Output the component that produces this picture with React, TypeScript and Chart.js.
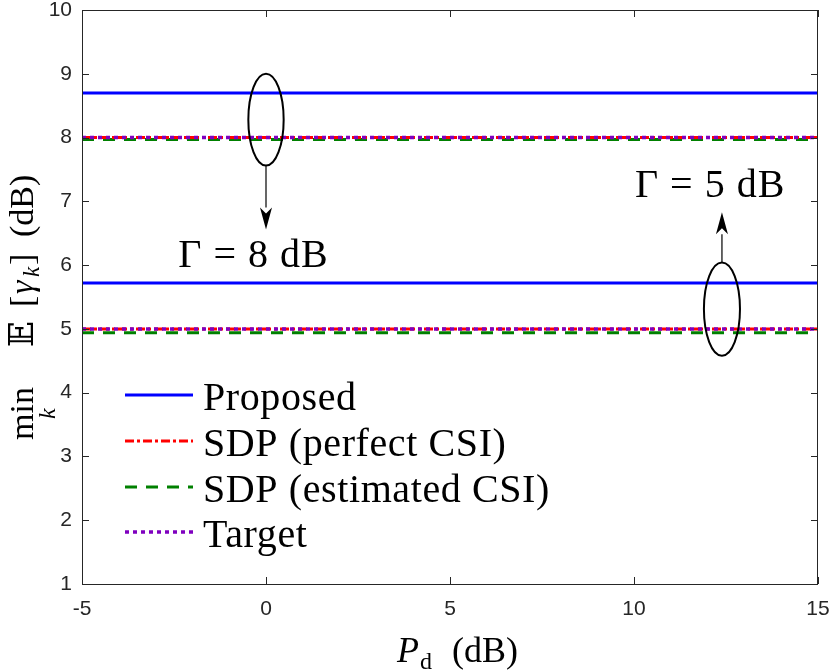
import { useEffect, useRef } from "react"
import { Chart, registerables } from "chart.js"

Chart.register(...registerables)

// sweep of the data power P_d (dB)
const powerDb = [-5, 0, 5, 10, 15]

// Γ = 8 dB group
const proposedHigh = [8.7, 8.7, 8.7, 8.7, 8.7]
const sdpPerfectHigh = [8.0, 8.0, 8.0, 8.0, 8.0]
const sdpEstimatedHigh = [7.97, 7.97, 7.97, 7.97, 7.97]
const targetHigh = [8.0, 8.0, 8.0, 8.0, 8.0]

// Γ = 5 dB group
const proposedLow = [5.72, 5.72, 5.72, 5.72, 5.72]
const sdpPerfectLow = [5.0, 5.0, 5.0, 5.0, 5.0]
const sdpEstimatedLow = [4.94, 4.94, 4.94, 4.94, 4.94]
const targetLow = [5.0, 5.0, 5.0, 5.0, 5.0]

const xTicks = [-5, 0, 5, 10, 15]
const yTicks = [1, 2, 3, 4, 5, 6, 7, 8, 9, 10]

const legendLabels = ["Proposed", "SDP (perfect CSI)", "SDP (estimated CSI)", "Target"]

// annotation ellipses / arrows / labels (data units)
const gammaLabels = ["Γ = 8 dB", "Γ = 5 dB"]
const ellipseX = [0, 12.39]
const ellipseY = [8.28, 5.31]
const ellipseRx = [0.48, 0.49]
const ellipseRy = [0.72, 0.73]
const arrowFrom = [7.56, 6.04]
const arrowTo = [6.56, 6.83]
const labelX = [-0.34, 12.07]
const labelY = [5.97, 7.07]

const SERIF = '"Liberation Serif", "Times New Roman", serif'
const SANS = '"Liberation Sans", Arial, Helvetica, sans-serif'
const AXIS_COLOR = "#262626"

const BLUE = "#0000ff"
const RED = "#ff0000"
const GREEN = "#008000"
const PURPLE = "#7f00bf"

const styles = [
  { color: BLUE, width: 3, dash: [] as number[] },
  { color: RED, width: 3, dash: [9, 3, 3, 3] },
  { color: GREEN, width: 3, dash: [12, 9] },
  { color: PURPLE, width: 3.5, dash: [4, 4] },
]

const toPoints = (ys: number[]) => powerDb.map((x, i) => ({ x, y: ys[i] }))

const overlayPlugin = {
  id: "overlay",
  afterDraw(chart: any) {
    const ctx = chart.ctx as CanvasRenderingContext2D
    const { left, right, top, bottom } = chart.chartArea
    const xs = chart.scales.x
    const ys = chart.scales.y

    ctx.save()

    // box + inward ticks
    ctx.strokeStyle = AXIS_COLOR
    ctx.lineWidth = 1
    ctx.setLineDash([])
    ctx.strokeRect(left + 0.5, top + 0.5, right - left - 1, bottom - top)
    ctx.beginPath()
    xTicks.forEach((t) => {
      const px = Math.round(xs.getPixelForValue(t)) + 0.5
      ctx.moveTo(px, bottom)
      ctx.lineTo(px, bottom - 7)
      ctx.moveTo(px, top)
      ctx.lineTo(px, top + 7)
    })
    yTicks.forEach((t) => {
      const py = Math.round(ys.getPixelForValue(t)) + 0.5
      ctx.moveTo(left, py)
      ctx.lineTo(left + 7, py)
      ctx.moveTo(right, py)
      ctx.lineTo(right - 7, py)
    })
    ctx.stroke()

    const c = ctx as any
    // ellipses, arrows, Γ labels
    ctx.strokeStyle = "#000"
    ctx.fillStyle = "#000"
    gammaLabels.forEach((txt, i) => {
      const cx = xs.getPixelForValue(ellipseX[i])
      const cy = ys.getPixelForValue(ellipseY[i])
      const rx = Math.abs(xs.getPixelForValue(ellipseX[i] + ellipseRx[i]) - cx)
      const ry = Math.abs(ys.getPixelForValue(ellipseY[i] + ellipseRy[i]) - cy)
      ctx.lineWidth = 2
      ctx.beginPath()
      ctx.ellipse(cx, cy, rx, ry, 0, 0, Math.PI * 2)
      ctx.stroke()

      const y0 = ys.getPixelForValue(arrowFrom[i])
      const y1 = ys.getPixelForValue(arrowTo[i])
      const dir = y1 > y0 ? 1 : -1
      const headLen = 22
      ctx.lineWidth = 1.2
      ctx.beginPath()
      ctx.moveTo(cx, y0)
      ctx.lineTo(cx, y1 - dir * headLen)
      ctx.stroke()
      ctx.beginPath()
      ctx.moveTo(cx, y1)
      ctx.lineTo(cx - 6, y1 - dir * headLen)
      ctx.lineTo(cx, y1 - dir * (headLen - 6))
      ctx.lineTo(cx + 6, y1 - dir * headLen)
      ctx.closePath()
      ctx.fill()

      ctx.font = `40px ${SERIF}`
      c.letterSpacing = "1px"
      ctx.textAlign = "center"
      ctx.textBaseline = "alphabetic"
      ctx.fillText(txt, xs.getPixelForValue(labelX[i]), ys.getPixelForValue(labelY[i]))
    })

    // legend inside the axes
    const rowY = [395, 441, 487, 532]
    legendLabels.forEach((label, i) => {
      const s = styles[i]
      ctx.strokeStyle = s.color
      ctx.lineWidth = s.width
      ctx.setLineDash(s.dash)
      ctx.beginPath()
      ctx.moveTo(125, rowY[i])
      ctx.lineTo(193, rowY[i])
      ctx.stroke()
      ctx.setLineDash([])
      ctx.fillStyle = "#000"
      ctx.font = `40px ${SERIF}`
      c.letterSpacing = "0.6px"
      ctx.textAlign = "left"
      ctx.fillText(label, 203, rowY[i] + 15)
    })
    c.letterSpacing = "0px"

    // x axis title: P_d (dB)
    ctx.fillStyle = "#000"
    ctx.textAlign = "left"
    ctx.font = `italic 36px ${SERIF}`
    ctx.fillText("P", 397, 662)
    ctx.font = `24px ${SERIF}`
    ctx.fillText("d", 420, 669)
    ctx.font = `36px ${SERIF}`
    ctx.fillText("(dB)", 452, 662)

    // y axis title: min_k E[γ_k] (dB), rotated
    ctx.translate(33, 440)
    ctx.rotate(-Math.PI / 2)
    ctx.font = `34px ${SERIF}`
    ctx.fillText("min", 0, 0)
    const minW = ctx.measureText("min").width
    ctx.font = `italic 24px ${SERIF}`
    const kW = ctx.measureText("k").width
    ctx.fillText("k", minW / 2 - kW / 2, 22)
    ctx.font = `34px ${SERIF}, "DejaVu Serif", "DejaVu Sans"`
    ctx.fillText("𝔼", 93, 0)
    ctx.font = `34px ${SERIF}`
    ctx.fillText("[", 133, 0)
    ctx.font = `italic 34px ${SERIF}`
    ctx.fillText("γ", 146, 0)
    ctx.font = `italic 23px ${SERIF}`
    ctx.fillText("k", 163, 6)
    ctx.font = `34px ${SERIF}`
    ctx.fillText("]", 175, 0)
    ctx.fillText("(dB)", 203, 0)

    ctx.restore()
  },
}

export default function App() {
  const canvasRef = useRef<HTMLCanvasElement>(null)
  const chartRef = useRef<Chart | null>(null)

  useEffect(() => {
    document.body.style.margin = "0"
    if (!canvasRef.current) return
    if (chartRef.current) chartRef.current.destroy()

    const mk = (label: string, ys: number[], k: number, order: number) => ({
      label,
      data: toPoints(ys),
      borderColor: styles[k].color,
      backgroundColor: styles[k].color,
      borderWidth: styles[k].width,
      borderDash: styles[k].dash,
      pointRadius: 0,
      fill: false,
      tension: 0,
      order,
    })

    chartRef.current = new Chart(canvasRef.current, {
      type: "line",
      data: {
        datasets: [
          mk("Proposed", proposedHigh, 0, 4),
          mk("Proposed", proposedLow, 0, 4),
          mk("SDP (perfect CSI)", sdpPerfectHigh, 1, 2),
          mk("SDP (perfect CSI)", sdpPerfectLow, 1, 2),
          mk("SDP (estimated CSI)", sdpEstimatedHigh, 2, 3),
          mk("SDP (estimated CSI)", sdpEstimatedLow, 2, 3),
          mk("Target", targetHigh, 3, 1),
          mk("Target", targetLow, 3, 1),
        ],
      },
      options: {
        animation: false,
        responsive: true,
        maintainAspectRatio: false,
        layout: { padding: { left: 0, right: 12, top: 10, bottom: 0 } },
        plugins: {
          legend: { display: false },
          tooltip: { enabled: false },
        },
        scales: {
          x: {
            type: "linear",
            min: -5,
            max: 15,
            afterBuildTicks: (scale: any) => {
              scale.ticks = xTicks.map((v) => ({ value: v }))
            },
            afterFit: (scale: any) => {
              scale.height = 88
              scale.paddingLeft = 0
              scale.paddingRight = 0
            },
            grid: { display: false, drawTicks: false },
            border: { display: false },
            ticks: {
              padding: 13,
              color: AXIS_COLOR,
              font: { family: SANS, size: 21 },
              maxRotation: 0,
            },
          },
          y: {
            type: "linear",
            min: 1,
            max: 10,
            afterBuildTicks: (scale: any) => {
              scale.ticks = yTicks.map((v) => ({ value: v }))
            },
            afterFit: (scale: any) => {
              scale.width = 82
              scale.paddingTop = 0
              scale.paddingBottom = 0
            },
            grid: { display: false, drawTicks: false },
            border: { display: false },
            ticks: {
              padding: 10,
              color: AXIS_COLOR,
              font: { family: SANS, size: 21 },
            },
          },
        },
      },
      plugins: [overlayPlugin],
    })

    return () => {
      if (chartRef.current) {
        chartRef.current.destroy()
        chartRef.current = null
      }
    }
  }, [])

  return (
    <div style={{ width: "830px", height: "672px", position: "relative" }}>
      <canvas ref={canvasRef} />
    </div>
  )
}
